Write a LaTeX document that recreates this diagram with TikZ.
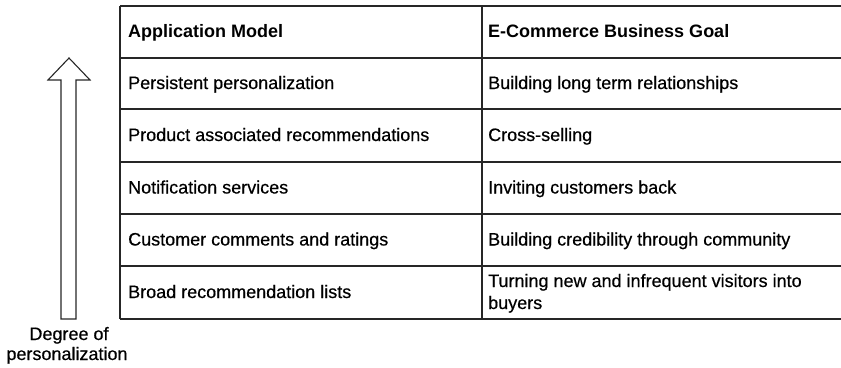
\documentclass[tikz,border=0pt]{standalone}
\usepackage{fontspec}
\setmainfont{Liberation Sans}
\newfontfamily\bodyfont{Liberation Sans}[FakeBold=0.5]
\begin{document}
\begin{tikzpicture}[x=1pt,y=-1pt,
  rule/.style={line width=1.3pt,color=black!85},
  cell/.style={anchor=base west,inner sep=0pt,font=\bodyfont\fontsize{18}{22}\selectfont,text=black},
  head/.style={anchor=base west,inner sep=0pt,font=\fontsize{18}{22}\selectfont\bfseries,text=black},
  lbl/.style={inner sep=0pt,align=center,font=\bodyfont\fontsize{18}{21}\selectfont,text=black}]
\useasboundingbox (0,0) rectangle (841,367);
% table rules
\foreach \y in {6,58,109,162,214,266,319}
  \draw[rule] (120,\y) -- (841,\y);
\draw[rule] (120,6) -- (120,319);
\draw[rule] (482,6) -- (482,319);
% header
\node[head] (h1) at (128,37.5) {Application Model};
\node[head] (h2) at (488,37.5) {E-Commerce Business Goal};
% rows
\node[cell] (a1) at (128,89) {Persistent personalization};
\node[cell] (b1) at (488,89) {Building long term relationships};
\node[cell] (a2) at (128,141) {Product associated recommendations};
\node[cell] (b2) at (488,141) {Cross-selling};
\node[cell] (a3) at (128,193.5) {Notification services};
\node[cell] (b3) at (488,193.5) {Inviting customers back};
\node[cell] (a4) at (128,245.5) {Customer comments and ratings};
\node[cell] (b4) at (488,245.5) {Building credibility through community};
\node[cell] (a5) at (128,298) {Broad recommendation lists};
\node[cell] (b5) at (488,287) {Turning new and infrequent visitors into};
\node[cell] (b6) at (488,309) {buyers};
% arrow
\draw[line width=1.1pt,color=black!85,line join=miter]
  (61,319) -- (61,80) -- (48,80) -- (69,58) -- (90,80) -- (76,80) -- (76,319) -- cycle;
\node[lbl,anchor=base] (d1) at (69,340) {Degree of};
\node[lbl,anchor=base] (d2) at (67,360) {personalization};
\end{tikzpicture}
\end{document}
